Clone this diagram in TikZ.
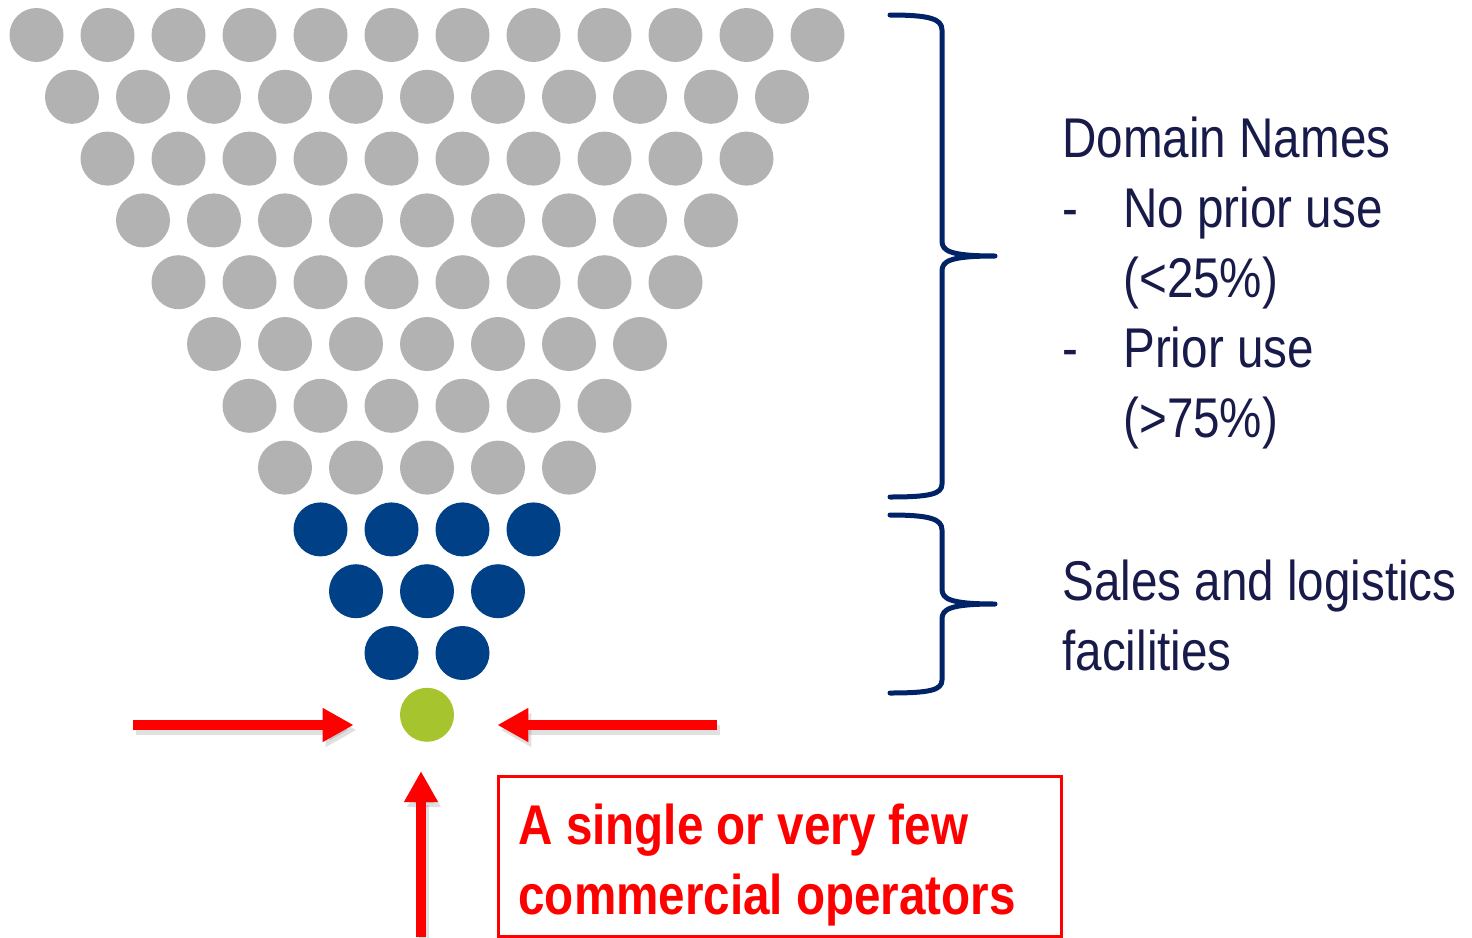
\documentclass[tikz,border=0pt]{standalone}
\usepackage{fontspec}
\setmainfont[FakeStretch=0.85]{Liberation Sans}
\usetikzlibrary{arrows.meta,positioning,calc}
\definecolor{dotgrey}{RGB}{178,178,178}
\definecolor{dotblue}{RGB}{0,64,135}
\definecolor{dotgreen}{RGB}{166,196,46}
\definecolor{bracenavy}{RGB}{0,34,102}
\definecolor{labelnavy}{RGB}{24,26,74}
\definecolor{opred}{RGB}{255,0,0}

\begin{document}
\begin{tikzpicture}[
    x=0.5pt, y=-0.5pt,
    dot/.style={circle, inner sep=0pt, minimum size=27pt},
    bracket/.style={line width=2.5pt, color=bracenavy, line cap=round, line join=round},
    grouplbl/.style={anchor=base west, inner sep=0pt, align=left, text=labelnavy,
        font=\fontsize{28}{35}\selectfont},
    opbox/.style={draw=opred, line width=1.5pt, anchor=north west, align=flush left,
        text width=261.5pt, inner xsep=10pt, inner ysep=0pt,
        text height=34pt, text depth=46pt, text=opred,
        font=\fontsize{28}{35}\selectfont\bfseries},
    pointer/.style={-{Triangle[length=15.5pt, width=16pt]}, line width=5pt, color=opred},
    pointershadow/.style={pointer, color=black, opacity=0.12,
        transform canvas={shift={(1.5pt,-2.5pt)}}}
]
\useasboundingbox (0,0) rectangle (1472,937);

% funnel of dots
\foreach \r in {0,...,11} {
  \pgfmathtruncatemacro{\n}{12-\r}
  \ifnum\r<8 \def\dotcol{dotgrey}\else\ifnum\r<11 \def\dotcol{dotblue}\else\def\dotcol{dotgreen}\fi\fi
  \foreach \c in {1,...,\n}
    \node[dot, fill=\dotcol] (d-\r-\c) at ({427+(\c-(\n+1)/2)*71}, {35+\r*61.8}) {};
}

% braces
\draw[bracket] (890,15) .. controls (930,15) and (942,19) .. (942,30) -- (942,241)
    .. controls (942,251) and (950,256) .. (995,256)
    .. controls (950,256) and (942,261) .. (942,271) -- (942,484)
    .. controls (942,494) and (930,497) .. (890,497);
\draw[bracket] (890,515) .. controls (930,515) and (942,519) .. (942,530) -- (942,589)
    .. controls (942,599) and (950,604) .. (995,604)
    .. controls (950,604) and (942,609) .. (942,619) -- (942,680)
    .. controls (942,690) and (930,693) .. (890,693);

\node[grouplbl] (domain) at (1062,157) {\begin{tabular}[t]{@{}p{30.5pt}@{}l@{}}
    \multicolumn{2}{@{}l@{}}{Domain Names}\\
    - & No prior use\\
      & (<25\%)\\
    - & Prior use\\
      & (>75\%)
  \end{tabular}};
\node[grouplbl] (sales) at (1062,670) {Sales and logistics\\facilities};

\node[opbox] (ops) at (497,775) {A single or very few\\commercial operators};

% arrows towards the single operator
\coordinate (tailL) at (133,725);
\coordinate (tailR) at (717,725);
\coordinate (tailU) at (421,937);
\draw[pointershadow, shorten >=23pt] (tailL) -- (tailL -| d-11-1.west);
\draw[pointershadow, shorten >=21.5pt] (tailR) -- (tailR -| d-11-1.east);
\draw[pointershadow, shorten >=14.5pt] (tailU) -- (tailU |- d-11-1.south);
\draw[pointer, shorten >=23pt] (tailL) -- (tailL -| d-11-1.west);
\draw[pointer, shorten >=21.5pt] (tailR) -- (tailR -| d-11-1.east);
\draw[pointer, shorten >=14.5pt] (tailU) -- (tailU |- d-11-1.south);

\end{tikzpicture}
\end{document}
